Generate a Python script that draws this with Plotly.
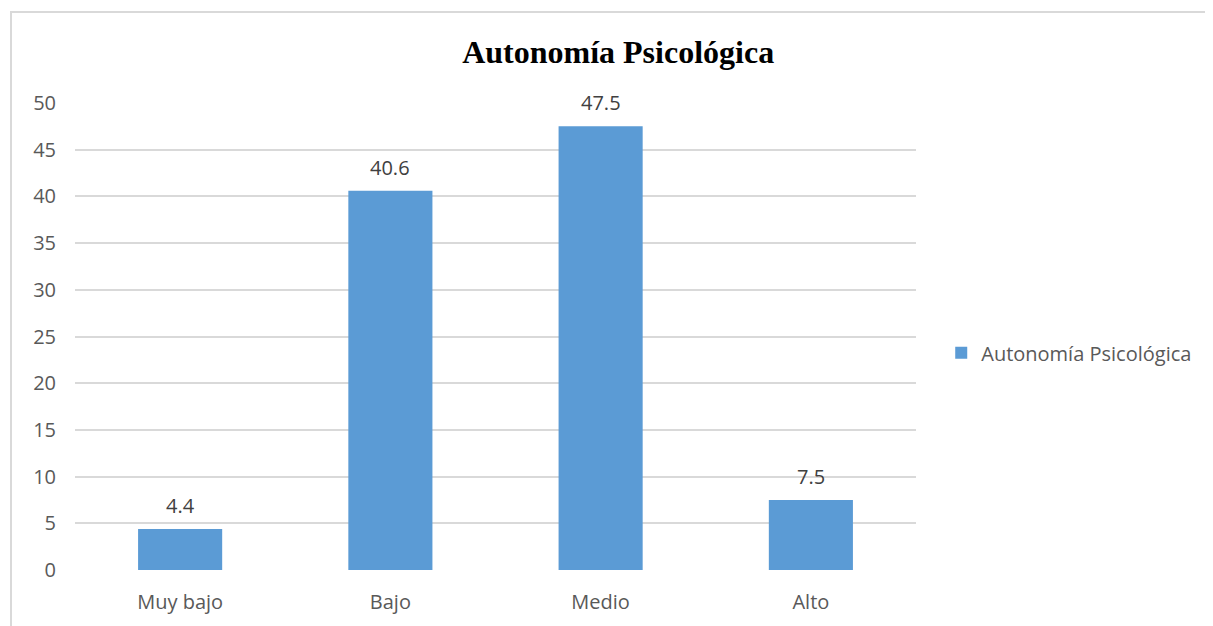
import plotly.graph_objects as go

categorias = ["Muy bajo", "Bajo", "Medio", "Alto"]
valores = [4.4, 40.6, 47.5, 7.5]
etiquetas = ["4.4", "40.6", "47.5", "7.5"]
serie = "Autonomía Psicológica"

fig = go.Figure()
fig.add_trace(go.Bar(x=categorias, y=valores, name=serie,
                     marker=dict(color="#5B9BD5", line=dict(width=0)),
                     showlegend=True))

# etiquetas de datos (encima de cada barra)
for cat, val, txt in zip(categorias, valores, etiquetas):
    fig.add_annotation(x=cat, y=val, text=txt, showarrow=False,
                       xanchor="center", yanchor="bottom", yshift=8,
                       font=dict(family="Open Sans", size=20, color="#404040"))

# borde del area del grafico (como en Excel)
fig.add_shape(type="rect", xref="paper", yref="paper",
              x0=-0.0761, x1=1.6, y0=-0.3, y1=1.1949,
              line=dict(color="#d9d9d9", width=2), layer="below")

# la pagina tiene un margen de 8px en el body, se compensa aqui
fig.update_layout(
    width=1213, height=626,
    margin=dict(l=67, r=305, t=95, b=64),
    paper_bgcolor="white", plot_bgcolor="white",
    font=dict(family="Open Sans", color="#595959", size=20),
    title=dict(text="<b>Autonomía Psicológica</b>", x=0.503, xanchor="center",
               y=0.93, yanchor="middle",
               font=dict(family="Liberation Serif", size=32, color="black")),
    bargap=0.6,
    legend=dict(x=1.03, y=0.465, xanchor="left", yanchor="middle",
                font=dict(size=20, color="#595959")),
    xaxis=dict(showgrid=False, showline=False, ticks="", ticklabelstandoff=18,
               tickfont=dict(size=20, color="#595959")),
    yaxis=dict(range=[0, 50], dtick=5, showgrid=True, gridcolor="#d9d9d9",
               gridwidth=1.5, zeroline=False, showline=False, ticks="",
               ticklabelstandoff=18, tickfont=dict(size=20, color="#595959")),
)

fig.write_html("out.html")
